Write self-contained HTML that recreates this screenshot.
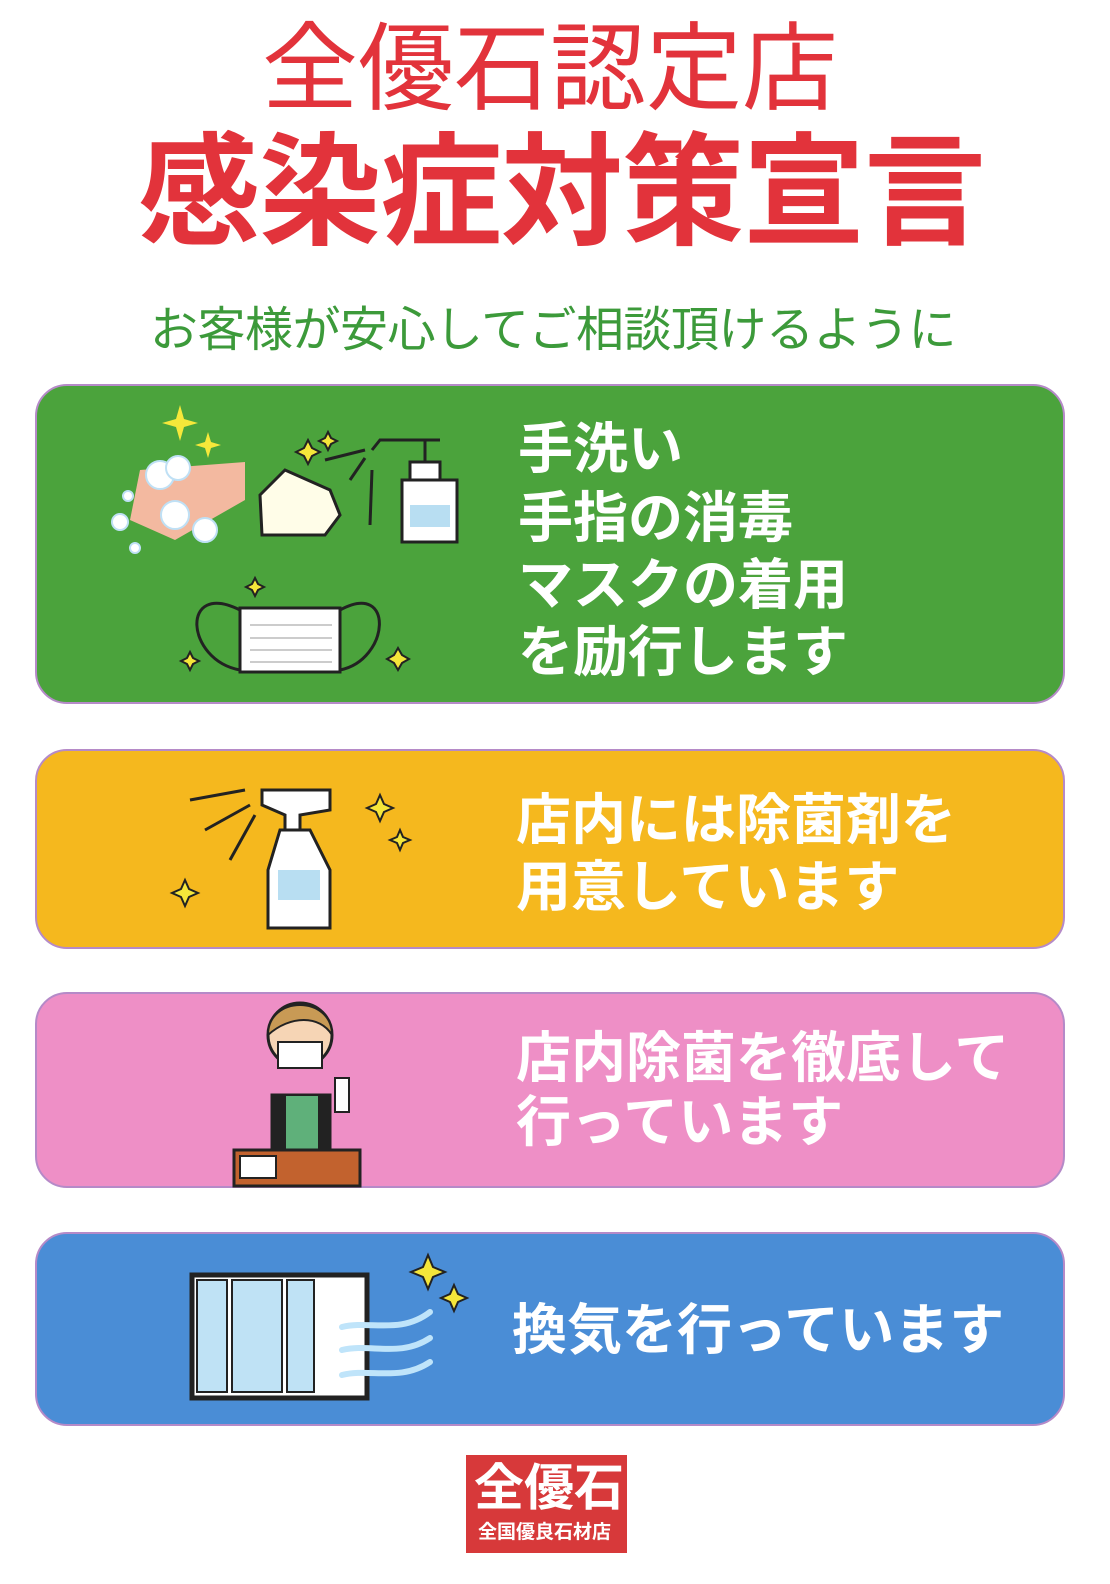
<!DOCTYPE html>
<html><head><meta charset="utf-8"><style>
body{margin:0;width:1110px;height:1584px;background:#fff;position:relative;overflow:hidden;font-family:"Liberation Sans","Noto Sans CJK JP",sans-serif}
.t{position:absolute;white-space:nowrap;font-weight:bold;line-height:1}
.p{position:absolute;left:35px;width:1030px;border-radius:32px;border:2px solid #b58ac8;box-sizing:border-box}
.w{color:#fff;font-size:55px;font-weight:bold;position:absolute;white-space:nowrap;line-height:1}
</style></head><body>
<div class="t" style="left:262px;top:22px;font-size:96px;color:#e2333b;font-weight:normal">全優石認定店</div>
<div class="t" style="left:138px;top:132px;font-size:122px;color:#e2333b;letter-spacing:-1px">感染症対策宣言</div>
<div class="t" style="left:150px;top:307px;font-size:48px;color:#3c9a3a;font-weight:normal;letter-spacing:-0.5px">お客様が安心してご相談頂けるように</div>

<div class="p" style="top:384px;height:320px;background:#4ba33c"></div>
<div class="p" style="top:749px;height:200px;background:#f5b81e"></div>
<div class="p" style="top:992px;height:196px;background:#ee8fc6"></div>
<div class="p" style="top:1232px;height:194px;background:#4a8dd6"></div>

<div class="w" style="left:518px;top:422px">手洗い</div>
<div class="w" style="left:518px;top:491px">手指の消毒</div>
<div class="w" style="left:518px;top:558px">マスクの着用</div>
<div class="w" style="left:518px;top:625px">を励行します</div>
<div class="w" style="left:516px;top:793px">店内には除菌剤を</div>
<div class="w" style="left:516px;top:860px">用意しています</div>
<div class="w" style="left:516px;top:1031px">店内除菌を徹底して</div>
<div class="w" style="left:516px;top:1095px">行っています</div>
<div class="w" style="left:512px;top:1303px">換気を行っています</div>

<svg style="position:absolute;left:0;top:0" width="1110" height="1584">
<g stroke="#222" stroke-width="3">
<path d="M140 470 L245 462 L245 500 L175 540 L130 520 Z" fill="#f3b9a0" stroke="none"/>
<g fill="#fff" stroke="#bfe0f5" stroke-width="2"><circle cx="160" cy="475" r="14"/><circle cx="178" cy="468" r="12"/><circle cx="175" cy="515" r="14"/><circle cx="205" cy="530" r="12"/><circle cx="120" cy="522" r="8"/><circle cx="128" cy="496" r="5"/><circle cx="135" cy="548" r="5"/></g>
<path d="M260 495 L285 470 L330 490 L340 515 L325 535 L262 535 Z" fill="#fffde8"/>
<g stroke-width="3"><line x1="325" y1="460" x2="365" y2="450"/><line x1="350" y1="480" x2="365" y2="458"/><line x1="372" y1="470" x2="370" y2="525"/></g>
<path d="M372 450 L380 440 L440 440 M425 440 L425 462" fill="none"/>
<rect x="410" y="462" width="30" height="18" fill="#fff"/>
<rect x="402" y="480" width="55" height="62" fill="#fff"/>
<rect x="410" y="505" width="40" height="22" fill="#b8def2" stroke="none"/>
<path d="M240 610 C180 580 185 660 240 670 M340 610 C395 580 390 660 340 670" fill="none"/>
<rect x="240" y="608" width="100" height="64" fill="#fff"/>
<g stroke="#999" stroke-width="1"><line x1="250" y1="625" x2="332" y2="625"/><line x1="250" y1="638" x2="332" y2="638"/><line x1="250" y1="650" x2="332" y2="650"/><line x1="250" y1="662" x2="332" y2="662"/></g>
<line x1="190" y1="800" x2="245" y2="790" /><line x1="205" y1="830" x2="250" y2="805"/><line x1="230" y1="860" x2="255" y2="815"/>
<path d="M262 790 L330 790 L330 810 L300 815 L300 830 L285 830 L285 815 L262 805 Z" fill="#fff"/>
<path d="M280 830 L310 830 L330 870 L330 928 L268 928 L268 870 Z" fill="#fff"/>
<rect x="278" y="870" width="42" height="30" fill="#b8def2" stroke="none"/>
<circle cx="300" cy="1035" r="32" fill="#f6d5b5"/>
<path d="M268 1035 C268 995 332 995 332 1035 C320 1015 290 1015 268 1035Z" fill="#c89a55" stroke-width="2"/>
<rect x="278" y="1042" width="44" height="26" fill="#fff" stroke-width="2"/>
<path d="M272 1095 L330 1095 L330 1150 L272 1150 Z" fill="#222"/>
<rect x="285" y="1095" width="34" height="55" fill="#5fb07a" stroke-width="2"/>
<rect x="335" y="1078" width="14" height="34" fill="#fff" stroke-width="2"/>
<rect x="234" y="1150" width="126" height="36" fill="#c2622e"/>
<rect x="240" y="1156" width="36" height="22" fill="#fff" stroke-width="2"/>
<rect x="192" y="1275" width="175" height="123" fill="#fff" stroke-width="5"/>
<rect x="197" y="1280" width="30" height="112" fill="#bfe2f5" stroke-width="2"/>
<rect x="232" y="1280" width="50" height="112" fill="#bfe2f5" stroke-width="2"/>
<rect x="287" y="1280" width="27" height="112" fill="#bfe2f5" stroke-width="2"/>
</g>
<g fill="none" stroke="#bfe4fa" stroke-width="6" stroke-linecap="round">
<path d="M342 1327 C370 1320 400 1335 430 1312"/><path d="M342 1350 C370 1343 400 1358 430 1338"/><path d="M342 1375 C370 1368 400 1382 430 1362"/>
</g>
<g fill="#f5e63a" stroke="#222" stroke-width="2">
<path d="M428 1255 l5 12 12 5 -12 5 -5 12 -5 -12 -12 -5 12 -5z"/><path d="M454 1285 l4 9 9 4 -9 4 -4 9 -4 -9 -9 -4 9 -4z"/>
<path d="M380 795 l4 9 9 4 -9 4 -4 9 -4 -9 -9 -4 9 -4z"/><path d="M400 830 l3 7 7 3 -7 3 -3 7 -3 -7 -7 -3 7 -3z"/><path d="M185 880 l4 9 9 4 -9 4 -4 9 -4 -9 -9 -4 9 -4z"/>
<path d="M308 440 l4 8 8 4 -8 4 -4 8 -4 -8 -8 -4 8 -4z"/><path d="M328 432 l3 6 6 3 -6 3 -3 6 -3 -6 -6 -3 6 -3z"/>
<path d="M255 578 l3 6 6 3 -6 3 -3 6 -3 -6 -6 -3 6 -3z"/><path d="M190 652 l3 6 6 3 -6 3 -3 6 -3 -6 -6 -3 6 -3z"/><path d="M398 648 l4 7 7 4 -7 4 -4 7 -4 -7 -7 -4 7 -4z"/>
</g>
<g fill="#f6e83a"><path d="M180 405 l4 14 14 4 -14 4 -4 14 -4 -14 -14 -4 14 -4z"/><path d="M208 432 l3 10 10 3 -10 3 -3 10 -3 -10 -10 -3 10 -3z"/></g>
</svg>

<div style="position:absolute;left:466px;top:1455px;width:161px;height:98px;background:#d7393a"></div>
<div class="t" style="left:474px;top:1463px;font-size:50px;color:#fff">全優石</div>
<div class="t" style="left:478px;top:1523px;font-size:19px;color:#fff">全国優良石材店</div>
</body></html>
